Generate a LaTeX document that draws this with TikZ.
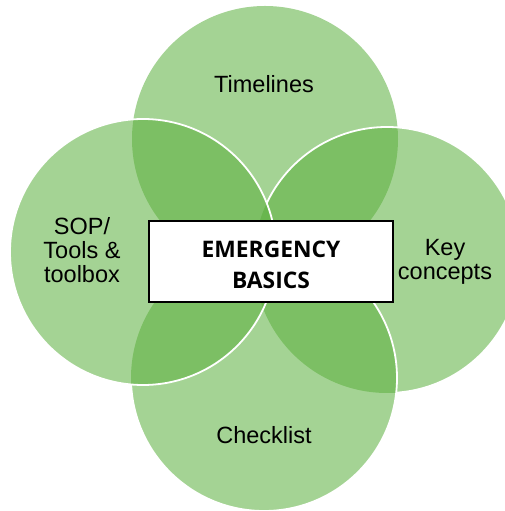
\documentclass[tikz,border=0pt]{standalone}
\usepackage{fontspec}
\setmainfont{Liberation Sans}
\newfontfamily\osans{Open Sans}
\definecolor{vgreen}{RGB}{90,175,60}
\newcommand\vennoutside[1]{\clip (-10,-10) -- (-10,521) -- (515,521) -- (515,-10) -- cycle (#1) circle[radius=133];}
\begin{document}
\begin{tikzpicture}[x=1pt,y=1pt,
  venn/.style={fill=vgreen, fill opacity=0.55},
  rim/.style={draw=white, line width=1.8pt},
  lbl/.style={font=\fontsize{23.5}{24}\selectfont, align=center, inner sep=0pt, anchor=base},
  boxstyle/.style={draw=black, fill=white, line width=1.5pt, minimum width=244pt, minimum height=81pt, inner sep=0pt},
  boxtext/.style={inner sep=0pt, anchor=base, align=center, font=\osans\bfseries\fontsize{22.8}{31}\selectfont}
  ]
\useasboundingbox (0,0) rectangle (505,511);
\coordinate (cT) at (265,372);
\coordinate (cR) at (387,251);
\coordinate (cB) at (264,133);
\coordinate (cL) at (143,259);
\foreach \c in {cT,cR,cB,cL} \fill[venn] (\c) circle[radius=133];
\begin{scope}
  \vennoutside{cB}\vennoutside{cL}
  \draw[rim] (cR) circle[radius=133];
\end{scope}
\begin{scope}
  \vennoutside{cL}
  \draw[rim] (cB) circle[radius=133];
\end{scope}
\draw[rim] (cL) circle[radius=133];
\node[boxstyle] (box) at (271,249.5) {};
\node[boxtext] (boxlabel) at (271,222) {EMERGENCY\\BASICS};
\node[lbl] (timelines) at (264,418.3) {Timelines};
\node[lbl] (sop) at (82,228) {SOP/\\Tools \&\\toolbox};
\node[lbl] (key) at (445,231) {Key\\concepts};
\node[lbl] (check) at (264,67) {Checklist};
\end{tikzpicture}
\end{document}
